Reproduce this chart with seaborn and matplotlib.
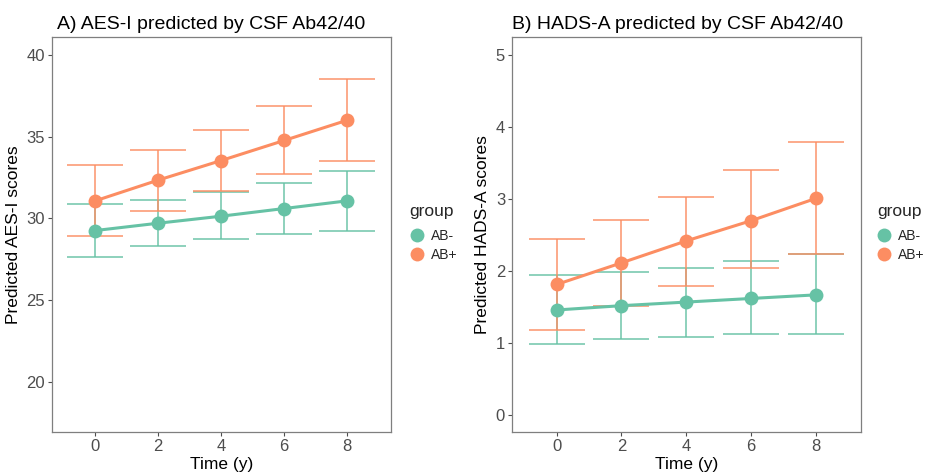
import numpy as np
import pandas as pd
import matplotlib
matplotlib.use("Agg")
import matplotlib.pyplot as plt
from matplotlib.lines import Line2D
import seaborn as sns

# Data
time = [0, 2, 4, 6, 8]
groups = ["AB-", "AB+"]

aes_neg = [29.26, 29.71, 30.14, 30.61, 31.08]
aes_neg_lo = [27.67, 28.30, 28.73, 29.04, 29.24]
aes_neg_hi = [30.86, 31.16, 31.61, 32.20, 32.91]
aes_pos = [31.08, 32.35, 33.55, 34.78, 36.02]
aes_pos_lo = [28.94, 30.45, 31.71, 32.73, 33.53]
aes_pos_hi = [33.27, 34.20, 35.43, 36.88, 38.53]

hads_neg = [1.46, 1.52, 1.57, 1.62, 1.67]
hads_neg_lo = [0.99, 1.05, 1.09, 1.12, 1.12]
hads_neg_hi = [1.95, 1.99, 2.05, 2.14, 2.24]
hads_pos = [1.815, 2.115, 2.42, 2.70, 3.01]
hads_pos_lo = [1.18, 1.51, 1.80, 2.04, 2.24]
hads_pos_hi = [2.44, 2.71, 3.03, 3.40, 3.80]

palette = {"AB-": "#66C2A5", "AB+": "#FC8D62"}

sns.set_theme(style="white")
plt.rcParams["font.family"] = ["Liberation Sans", "DejaVu Sans"]

fig = plt.figure(figsize=(9.33, 4.72), dpi=100)
ax_a = fig.add_axes([0.0554, 0.0841, 0.3637, 0.8369])
ax_b = fig.add_axes([0.5488, 0.0841, 0.3737, 0.8369])


def make_df(neg, neg_lo, neg_hi, pos, pos_lo, pos_hi):
    return pd.DataFrame({
        "time": time * 2,
        "group": ["AB-"] * 5 + ["AB+"] * 5,
        "pred": neg + pos,
        "lo": neg_lo + pos_lo,
        "hi": neg_hi + pos_hi,
    })


def draw_panel(ax, df, title, ylabel, ylim, yticks, legend_x, title_x):
    for g in groups:
        sub = df[df["group"] == g]
        ax.errorbar(sub["time"], sub["pred"],
                    yerr=[sub["pred"] - sub["lo"], sub["hi"] - sub["pred"]],
                    fmt="none", ecolor=palette[g], elinewidth=1.3,
                    capsize=20.5, capthick=1.3, alpha=0.8, zorder=2)
    sns.lineplot(data=df, x="time", y="pred", hue="group", palette=palette,
                 marker="o", markersize=10, markeredgewidth=0, linewidth=2.2,
                 legend=False, ax=ax, zorder=3)
    ax.set_xlim(-1.38, 9.39)
    ax.set_ylim(*ylim)
    ax.set_xticks(time)
    ax.set_yticks(yticks)
    ax.set_title(title, loc="left", fontsize=14, color="black", pad=6, x=title_x)
    ax.set_xlabel("Time (y)", fontsize=12.5, color="black", labelpad=2)
    ax.set_ylabel(ylabel, fontsize=12.5, color="black", labelpad=4)
    ax.tick_params(axis="both", which="both", labelsize=12, labelcolor="#4D4D4D",
                   color="#4D4D4D", length=3, width=0.8, direction="out",
                   bottom=True, left=True, pad=2)
    for s in ax.spines.values():
        s.set_color("#7F7F7F")
        s.set_linewidth(0.9)
    handles = [Line2D([0], [0], marker="o", linestyle="none", markersize=10,
                      markerfacecolor=palette[g], markeredgewidth=0) for g in groups]
    leg = ax.legend(handles, groups, title="group", loc="center left",
                    bbox_to_anchor=(legend_x, 0.505), frameon=False,
                    fontsize=10, title_fontsize=12.5, handlelength=1.0,
                    handletextpad=0.5, labelspacing=0.35, borderaxespad=0,
                    borderpad=0)
    leg._legend_box.align = "left"
    leg._legend_box.sep = 7


df_a = make_df(aes_neg, aes_neg_lo, aes_neg_hi, aes_pos, aes_pos_lo, aes_pos_hi)
df_b = make_df(hads_neg, hads_neg_lo, hads_neg_hi, hads_pos, hads_pos_lo, hads_pos_hi)

draw_panel(ax_a, df_a, "A) AES-I predicted by CSF Ab42/40", "Predicted AES-I scores",
           (16.9, 41.1), [20, 25, 30, 35, 40], 1.055, 0.015)
draw_panel(ax_b, df_b, "B) HADS-A predicted by CSF Ab42/40", "Predicted HADS-A scores",
           (-0.24, 5.25), [0, 1, 2, 3, 4, 5], 1.048, 0.0)

fig.savefig("out.png", dpi=100)
